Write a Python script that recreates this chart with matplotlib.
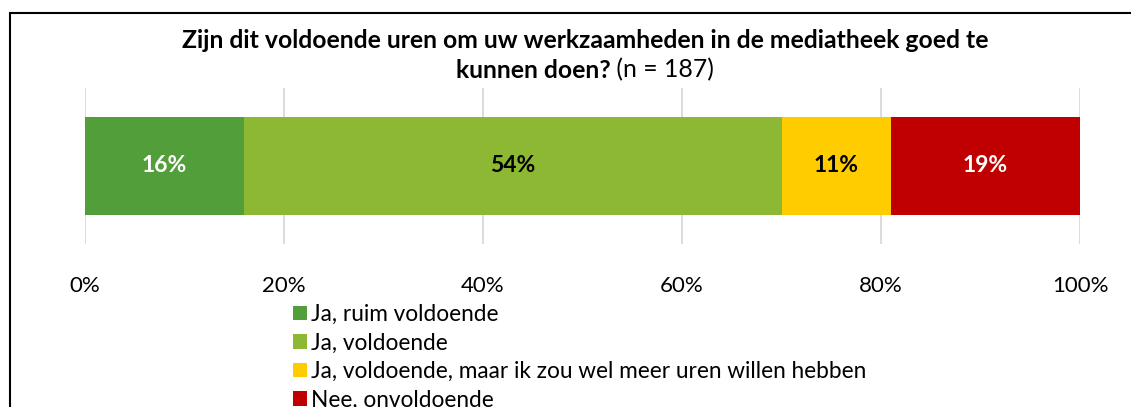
import matplotlib.pyplot as plt
from matplotlib.patches import Rectangle

plt.rcParams['font.family'] = ['Lato', 'DejaVu Sans']

categories = ['Ja, ruim voldoende', 'Ja, voldoende',
              'Ja, voldoende, maar ik zou wel meer uren willen hebben',
              'Nee, onvoldoende']
values = [16, 54, 11, 19]
colors = ['#529E3A', '#8DB834', '#FFCC00', '#C00000']
label_colors = ['white', 'black', 'black', 'white']
ticks = [0, 20, 40, 60, 80, 100]
title_bold_1 = 'Zijn dit voldoende uren om uw werkzaamheden in de mediatheek goed te'
title_bold_2 = 'kunnen doen?'
title_normal_2 = ' (n = 187)'

W, H = 1131, 407
fig = plt.figure(figsize=(W / 100, H / 100), dpi=100)
ax = fig.add_axes([85 / W, 1 - 244 / H, (1080 - 85) / W, (244 - 88) / H])

left = 0
for i in range(len(values)):
    ax.barh(0, values[i], left=left, height=0.622, color=colors[i],
            label=categories[i], zorder=3)
    ax.text(left + values[i] / 2, 0, '%d%%' % values[i], ha='center', va='center',
            fontsize=16.5, fontweight='bold', color=label_colors[i], zorder=4)
    left = left + values[i]

ax.set_xlim(0, 100)
ax.set_ylim(-0.5, 0.5)
ax.set_xticks(ticks)
ax.set_xticklabels(['%d%%' % t for t in ticks], fontsize=16)
ax.set_yticks([])
ax.tick_params(axis='x', length=0, pad=23)
ax.grid(axis='x', color='#D9D9D9', linewidth=1.3, zorder=0)
for s in ax.spines.values():
    s.set_visible(False)

# title: first line bold, second line bold + normal
fig.text(585 / W, 1 - 40 / H, title_bold_1, ha='center', va='center',
         fontsize=17.8, fontweight='bold')
fig.canvas.draw()
r = fig.canvas.get_renderer()
t1 = fig.text(0, 1 - 70 / H, title_bold_2, ha='left', va='center',
              fontsize=17.8, fontweight='bold')
t2 = fig.text(0, 1 - 70 / H, title_normal_2, ha='left', va='center', fontsize=17.8)
w1 = t1.get_window_extent(r).width
w2 = t2.get_window_extent(r).width
x0 = 585 - (w1 + w2) / 2
t1.set_x(x0 / W)
t2.set_x((x0 + w1) / W)

fig.legend(loc='upper left', bbox_to_anchor=(284 / W, 1 - 295 / H), frameon=False,
           fontsize=16.3, handlelength=0.6, handleheight=0.6, handletextpad=0.2,
           labelspacing=0.33, borderaxespad=0)

fig.patches.append(Rectangle((9.5 / W, -0.2), 2, 1.2 - 13 / H, transform=fig.transFigure,
                             fill=False, edgecolor='black', linewidth=1.5))

fig.savefig('out.png', dpi=100)
